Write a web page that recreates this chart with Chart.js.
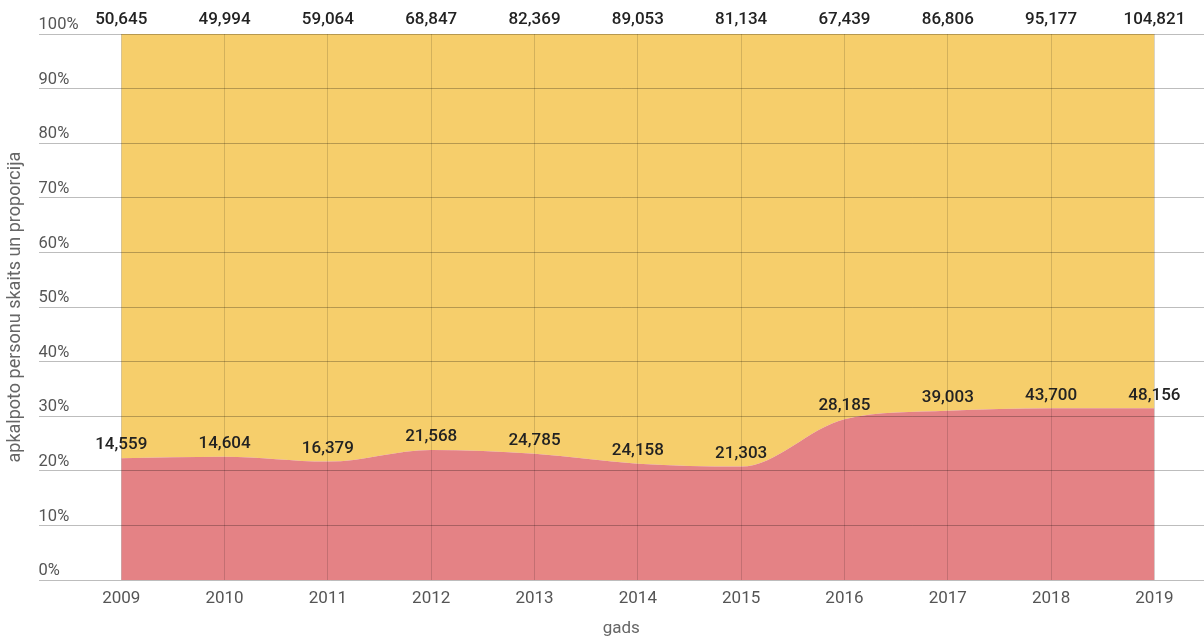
<!DOCTYPE html>
<html>
<head>
<meta charset="utf-8">
<script src="https://cdn.jsdelivr.net/npm/chart.js@4/dist/chart.umd.min.js"></script>
<style>
  body { margin: 0; background: #fff; }
  #wrap { width: 1204px; height: 639px; }
</style>
</head>
<body>
<div id="wrap"><canvas id="myChart" width="1204" height="639"></canvas></div>
<script>
// gadi un apkalpoto personu skaits
var years = [2009, 2010, 2011, 2012, 2013, 2014, 2015, 2016, 2017, 2018, 2019]
var redValues = [14559, 14604, 16379, 21568, 24785, 24158, 21303, 28185, 39003, 43700, 48156]
var yellowValues = [50645, 49994, 59064, 68847, 82369, 89053, 81134, 67439, 86806, 95177, 104821]
var yTicks = [0, 10, 20, 30, 40, 50, 60, 70, 80, 90, 100]

// proporcijas (100% stacked)
var redPct = []
var yellowPct = []
for (var i = 0; i < years.length; i++) {
  var total = redValues[i] + yellowValues[i]
  redPct.push({ x: years[i], y: redValues[i] / total * 100 })
  yellowPct.push({ x: years[i], y: yellowValues[i] / total * 100 })
}

function fmt(n) {
  return n.toLocaleString('en-US')
}

var valueLabels = {
  id: 'valueLabels',
  afterDatasetsDraw: function(chart) {
    var ctx = chart.ctx
    var area = chart.chartArea
    ctx.save()
    ctx.font = '500 17px Roboto'
    ctx.fillStyle = '#222'
    ctx.textAlign = 'center'
    ctx.textBaseline = 'middle'
    var red = chart.getDatasetMeta(0).data
    red.forEach(function(p, i) {
      ctx.fillText(fmt(redValues[i]), p.x, p.y - 13)
    })
    var yel = chart.getDatasetMeta(1).data
    yel.forEach(function(p, i) {
      ctx.fillText(fmt(yellowValues[i]), p.x, area.top - 14)
    })
    ctx.restore()
  }
}

var ctx = document.getElementById('myChart').getContext('2d')
var chart = new Chart(ctx, {
  type: 'line',
  data: {
    datasets: [{
      label: 'red',
      data: redPct,
      backgroundColor: 'rgb(228, 130, 133)',
      borderWidth: 0,
      pointRadius: 0,
      fill: 'origin',
      cubicInterpolationMode: 'monotone'
    }, {
      label: 'yellow',
      data: yellowPct,
      backgroundColor: 'rgb(246, 206, 107)',
      borderWidth: 0,
      pointRadius: 0,
      fill: '-1',
      cubicInterpolationMode: 'monotone'
    }]
  },
  options: {
    responsive: false,
    animation: false,
    events: [],
    layout: { padding: { top: 34, right: 0, left: 5, bottom: 0 } },
    plugins: {
      legend: { display: false },
      tooltip: { enabled: false }
    },
    scales: {
      x: {
        type: 'linear',
        min: 2008.2,
        max: 2019.48,
        border: { display: false },
        grid: { color: 'rgba(0,0,0,0.14)', z: 1, drawTicks: false },
        ticks: {
          stepSize: 1,
          includeBounds: false,
          padding: 8,
          color: '#555',
          font: { family: 'Roboto', size: 17 },
          callback: function(v) { return years.indexOf(v) >= 0 ? String(v) : '' }
        },
        title: {
          display: true,
          text: 'gads',
          color: '#666',
          font: { family: 'Roboto', size: 17 },
          padding: { top: 2, bottom: 0 }
        }
      },
      y: {
        stacked: true,
        min: 0,
        max: 100,
        border: { display: false },
        grid: { color: 'rgba(0,0,0,0.26)', z: 1, drawTicks: false },
        afterBuildTicks: function(axis) {
          axis.ticks = yTicks.map(function(v) { return { value: v } })
        },
        ticks: {
          mirror: true,
          padding: 0,
          labelOffset: -9,
          color: '#555',
          font: { family: 'Roboto', size: 16.5 },
          callback: function(v) { return v + '%' }
        },
        title: {
          display: true,
          text: 'apkalpoto personu skaits un proporcija',
          color: '#666',
          font: { family: 'Roboto', size: 18 },
          padding: { top: 0, bottom: 12 }
        }
      }
    }
  },
  plugins: [valueLabels]
})
</script>
</body>
</html>
